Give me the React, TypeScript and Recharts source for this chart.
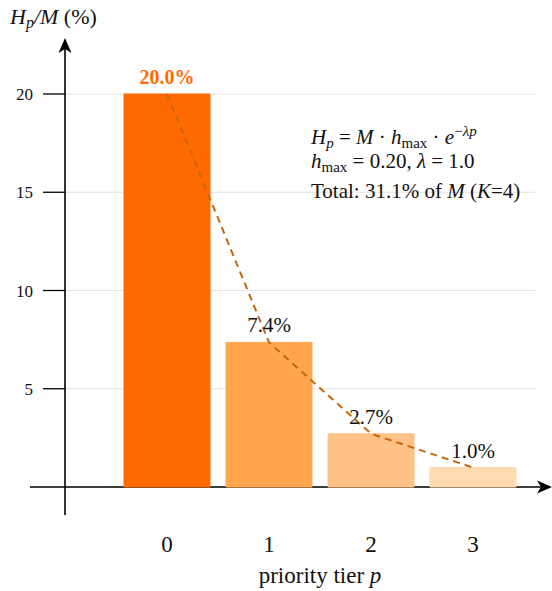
import React from 'react'
import { ComposedChart, Bar, Line, XAxis, YAxis, CartesianGrid, Cell, LabelList, Customized } from 'recharts'

// priority tiers and the share of M they get
const tiers = ['0', '1', '2', '3']
const shares = [20.0, 7.36, 2.71, 0.99]
const curve = [20.0, 7.36, 2.71, 0.99]
const barLabels = ['20.0%', '7.4%', '2.7%', '1.0%']
const barColors = ['#FF6A00', '#FFA54D', '#FFC286', '#FFD9B0']
const yTicks = [5, 10, 15, 20]

const W = 552
const H = 591
const SERIF = '"Liberation Serif", "Times New Roman", serif'

// plot box, in px of the svg
const PLOT_LEFT = 65
const PLOT_RIGHT = 535
const PLOT_TOP = 94
const PLOT_BOTTOM = 487

const data = tiers.map((t, i) => ({ tier: t, share: shares[i], curve: curve[i] }))

const XTick = ({ x, y, payload }: any) => (
  <text x={x} y={y + 65} textAnchor="middle" fontFamily={SERIF} fontSize={23} fill="#111">
    {payload.value}
  </text>
)

const YTick = ({ x, y, payload }: any) => (
  <text x={x} y={y + 6} textAnchor="end" fontFamily={SERIF} fontSize={17} fill="#111">
    {payload.value}
  </text>
)

const BarLabel = ({ x, y, width, index }: any) => {
  const first = index === 0
  return (
    <text
      x={x + width / 2}
      y={y - 10}
      textAnchor="middle"
      fontFamily={SERIF}
      fontSize={first ? 20 : 21}
      fontWeight={first ? 'bold' : 'normal'}
      fill={first ? '#FF6A00' : '#111'}
    >
      {barLabels[index]}
    </text>
  )
}

// axes with arrows, titles and the formula box
const Overlay = () => (
  <g>
    <line x1={30} y1={PLOT_BOTTOM} x2={545} y2={PLOT_BOTTOM} stroke="#000" strokeWidth={1.6} />
    <path d={`M552,${PLOT_BOTTOM} L537,${PLOT_BOTTOM - 6.5} L541,${PLOT_BOTTOM} L537,${PLOT_BOTTOM + 6.5} Z`} fill="#000" />
    <line x1={PLOT_LEFT} y1={515} x2={PLOT_LEFT} y2={45} stroke="#000" strokeWidth={1.6} />
    <path d={`M${PLOT_LEFT},38 L${PLOT_LEFT - 6.5},53 L${PLOT_LEFT},49 L${PLOT_LEFT + 6.5},53 Z`} fill="#000" />

    <text x={10} y={24} fontFamily={SERIF} fontSize={22} fill="#111">
      <tspan fontStyle="italic">H</tspan>
      <tspan fontStyle="italic" fontSize={16} dy={4}>p</tspan>
      <tspan fontStyle="italic" dy={-4}>/M</tspan>
      <tspan>  (%)</tspan>
    </text>

    <text x={(PLOT_LEFT + 51 + PLOT_RIGHT - 11) / 2} y={583} textAnchor="middle" fontFamily={SERIF} fontSize={23} fill="#111">
      priority tier <tspan fontStyle="italic">p</tspan>
    </text>

    <g fontFamily={SERIF} fontSize={21} fill="#111">
      <text x={311} y={144}>
        <tspan fontStyle="italic">H</tspan>
        <tspan fontStyle="italic" fontSize={15} dy={4}>p</tspan>
        <tspan dy={-4}> = </tspan>
        <tspan fontStyle="italic">M</tspan>
        <tspan> · </tspan>
        <tspan fontStyle="italic">h</tspan>
        <tspan fontSize={15} dy={4}>max</tspan>
        <tspan dy={-4}> · </tspan>
        <tspan fontStyle="italic">e</tspan>
        <tspan fontSize={15} dy={-8}>−</tspan>
        <tspan fontSize={15} fontStyle="italic">λp</tspan>
      </text>
      <text x={311} y={168}>
        <tspan fontStyle="italic">h</tspan>
        <tspan fontSize={15} dy={4}>max</tspan>
        <tspan dy={-4}> = 0.20,  </tspan>
        <tspan fontStyle="italic">λ</tspan>
        <tspan> = 1.0</tspan>
      </text>
      <text x={311} y={198}>
        Total: 31.1% of <tspan fontStyle="italic">M</tspan> (<tspan fontStyle="italic">K</tspan>=4)
      </text>
    </g>
  </g>
)

export default function App() {
  return (
    <div style={{ position: 'absolute', left: 0, top: 0, width: W, height: H, background: '#fff' }}>
      <ComposedChart
        width={W}
        height={H}
        data={data}
        margin={{ top: PLOT_TOP, right: W - PLOT_RIGHT, bottom: 0, left: 0 }}
      >
        <CartesianGrid vertical={false} stroke="#e3e3e3" strokeWidth={1} />
        <XAxis
          dataKey="tier"
          height={H - PLOT_BOTTOM}
          padding={{ left: 51, right: 11 }}
          axisLine={false}
          tickLine={false}
          tickSize={0}
          tickMargin={0}
          tick={<XTick />}
        />
        <YAxis
          width={PLOT_LEFT}
          domain={[0, 20]}
          ticks={yTicks}
          axisLine={false}
          tickSize={22}
          tickMargin={10}
          tickLine={{ stroke: '#000', strokeWidth: 1.3 }}
          tick={<YTick />}
        />
        <Bar dataKey="share" barSize={86} isAnimationActive={false}>
          {data.map((d, i) => (
            <Cell key={d.tier} fill={barColors[i]} stroke={barColors[i]} />
          ))}
          <LabelList dataKey="share" content={<BarLabel />} />
        </Bar>
        <Line
          dataKey="curve"
          type="linear"
          stroke="#C8650A"
          strokeWidth={2}
          strokeDasharray="7 5"
          dot={false}
          activeDot={false}
          isAnimationActive={false}
        />
        <Customized component={Overlay} />
      </ComposedChart>
    </div>
  )
}
